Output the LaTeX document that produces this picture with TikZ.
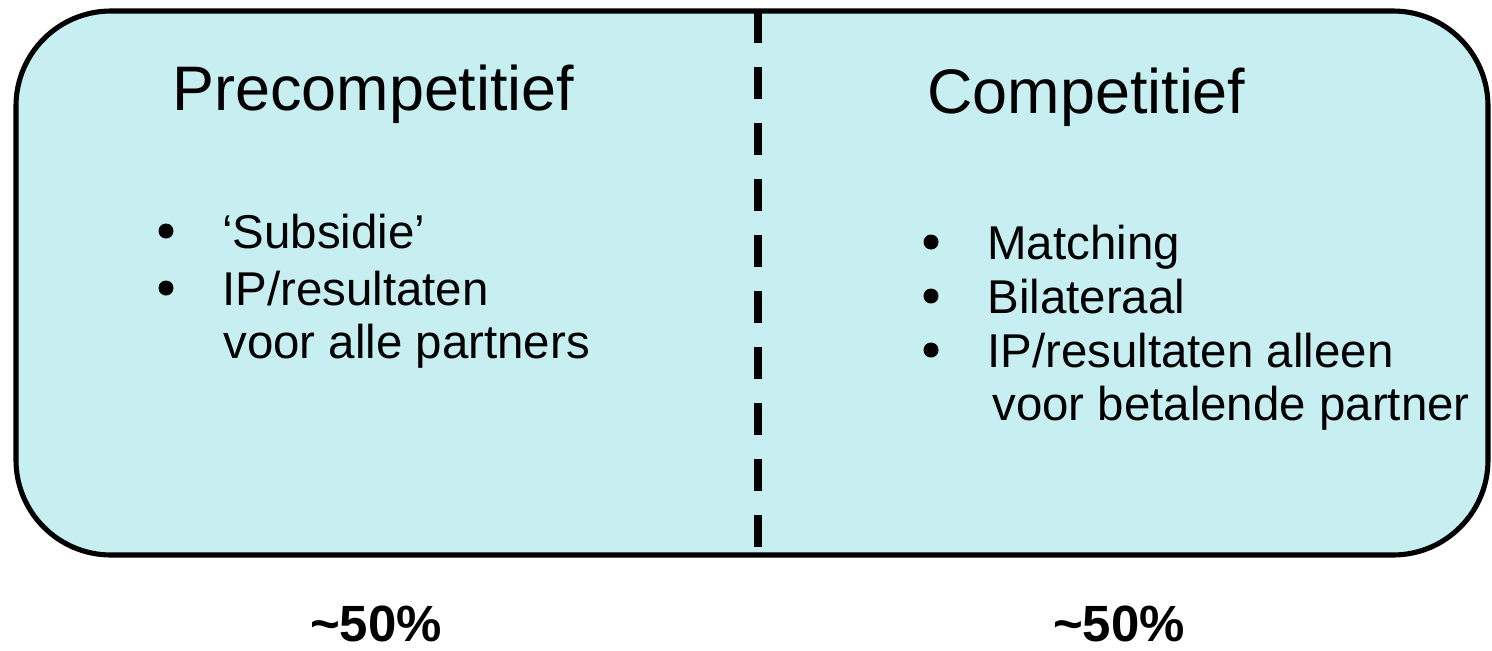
\documentclass[tikz,border=0pt]{standalone}
\usepackage{fontspec}
\setmainfont{Liberation Sans}
\usepackage{xcolor}
\definecolor{boxcyan}{RGB}{199,238,241}

\begin{document}
\begin{tikzpicture}[x=0.02cm, y=-0.02cm]

\tikzset{
  title/.style={anchor=base west, inner sep=0pt, font=\fontsize{35.8}{40}\selectfont},
  item/.style={anchor=base west, inner sep=0pt, font=\fontsize{27}{32}\selectfont},
  bulletdot/.style={circle, fill=black, inner sep=0pt, minimum size=0.3cm},
  share/.style={anchor=base, inner sep=0pt, font=\fontsize{29}{34}\selectfont\bfseries}
}

\useasboundingbox (0,0) rectangle (1492,650);

% rounded box
\draw[black, line width=2.9pt, fill=boxcyan, rounded corners=1.9cm] (16,11) rectangle (1488,555);

% dashed divider
\draw[black, line width=4.5pt, dash pattern=on 0.64cm off 0.48cm] (758,11) -- (758,555);

% left half
\node[title] (pretitle) at (172,110) {Precompetitief};
\node[bulletdot] (prebul1) at (166,231) {};
\node[item] (preitem1) at (222,248) {`Subsidie'};
\node[bulletdot] (prebul2) at (166,288) {};
\node[item] (preitem2) at (222,305) {IP/resultaten};
\node[item] (preitem3) at (223,358) {voor alle partners};

% right half
\node[title] (comptitle) at (927,113) {Competitief};
\node[bulletdot] (compbul1) at (931,242) {};
\node[item] (compitem1) at (987,259) {Matching};
\node[bulletdot] (compbul2) at (931,296) {};
\node[item] (compitem2) at (987,313) {Bilateraal};
\node[bulletdot] (compbul3) at (931,350) {};
\node[item] (compitem3) at (987,367) {IP/resultaten alleen};
\node[item] (compitem4) at (992,420) {voor betalende partner};

% shares below the box
\node[share] (preshare) at (376,641) {\textasciitilde50\%};
\node[share] (compshare) at (1119,641) {\textasciitilde50\%};

\end{tikzpicture}
\end{document}
